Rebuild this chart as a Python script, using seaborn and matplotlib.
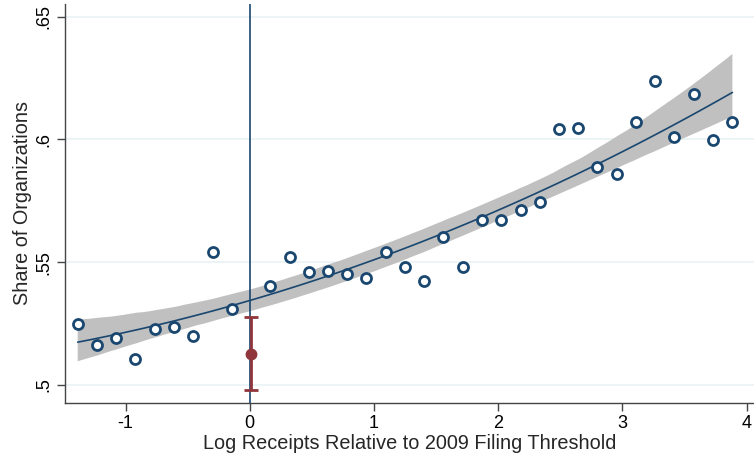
import numpy as np
import pandas as pd
import matplotlib
matplotlib.use("Agg")
import matplotlib.pyplot as plt
import seaborn as sns

# binned means: log receipts relative to 2009 threshold vs share of organizations
log_receipts = [-1.385, -1.229, -1.077, -0.924, -0.765, -0.612, -0.457, -0.298, -0.145,
                0.163, 0.322, 0.477, 0.633, 0.786, 0.939, 1.095, 1.250, 1.406, 1.559,
                1.715, 1.870, 2.026, 2.182, 2.335, 2.490, 2.646, 2.799, 2.955, 3.108,
                3.263, 3.419, 3.575, 3.730, 3.886]
share = [0.5247, 0.5161, 0.5192, 0.5105, 0.5226, 0.5236, 0.5200, 0.5542, 0.5309,
         0.5403, 0.5519, 0.5458, 0.5463, 0.5450, 0.5436, 0.5542, 0.5481, 0.5423, 0.5603,
         0.5482, 0.5672, 0.5671, 0.5712, 0.5746, 0.6041, 0.6046, 0.5888, 0.5860, 0.6069,
         0.6240, 0.6008, 0.6187, 0.5997, 0.6072]

# estimate at the threshold with its confidence interval
est_x = [0.01]
est_y = [0.5126]
est_lo = [0.4977]
est_hi = [0.5276]

df = pd.DataFrame({"x": log_receipts, "y": share})

navy = "#1a476f"
maroon = "#90353b"

sns.set_style("white")
plt.rcParams["font.family"] = ["Liberation Sans", "DejaVu Sans"]
plt.rcParams["font.size"] = 13

fig = plt.figure(figsize=(7.54, 4.59), dpi=100)
ax = fig.add_axes([0.0866, 0.1227, 0.9134, 0.8686])

# quadratic fit with confidence band
sns.regplot(data=df, x="x", y="y", order=2, ci=95, scatter=False, seed=3,
            n_boot=2000, color=navy, line_kws={"lw": 1.2, "zorder": 3}, ax=ax)
for coll in ax.collections:
    coll.set_facecolor("#c0c0c0")
    coll.set_alpha(1)
    coll.set_edgecolor("none")
    coll.set_zorder(2)

ax.axvline(0, color=navy, lw=1.2, zorder=3)

sns.scatterplot(data=df, x="x", y="y", marker="o", s=52, facecolor="white",
                edgecolor=navy, linewidth=2, zorder=4, ax=ax)

yerr = [[est_y[0] - est_lo[0]], [est_hi[0] - est_y[0]]]
ax.errorbar(est_x, est_y, yerr=yerr, fmt="o", color=maroon, ms=7.5, elinewidth=2,
            capsize=5, capthick=2, zorder=5)

ax.set_xlim(-1.485, 4.06)
ax.set_ylim(0.4927, 0.6552)
ax.set_xticks([-1, 0, 1, 2, 3, 4])
ax.set_xticklabels(["-1", "0", "1", "2", "3", "4"])
ax.set_yticks([0.5, 0.55, 0.6, 0.65])
ax.set_yticklabels([".5", ".55", ".6", ".65"], rotation=90, va="center")
ax.yaxis.grid(True, color="#eaf2f3", lw=1.2, zorder=0)
ax.set_axisbelow(True)

for side in ["top", "right"]:
    ax.spines[side].set_visible(False)
for side in ["left", "bottom"]:
    ax.spines[side].set_color("#444444")
    ax.spines[side].set_linewidth(1)
ax.tick_params(axis="both", direction="out", length=6, width=1, color="#444444",
               labelsize=13, labelcolor="black", bottom=True, left=True, pad=3)

ax.set_xlabel("Log Receipts Relative to 2009 Filing Threshold", fontsize=14.3, labelpad=1)
ax.set_ylabel("Share of Organizations", fontsize=14.3, labelpad=3)

fig.savefig("out.png", dpi=100)
